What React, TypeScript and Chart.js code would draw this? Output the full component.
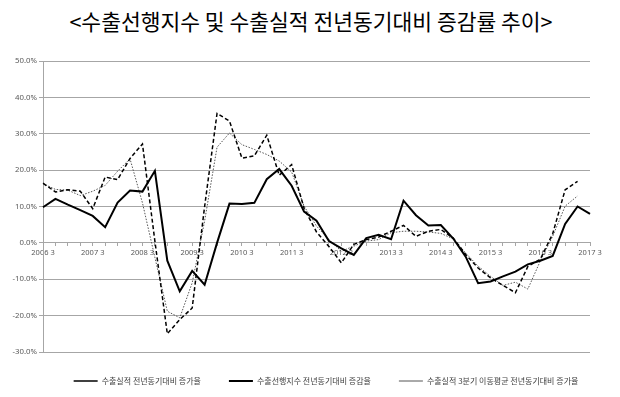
import React, { useEffect, useRef } from "react";
import { Chart, registerables } from "chart.js";

Chart.register(...registerables);

const titleText = "<수출선행지수 및 수출실적 전년동기대비 증감률 추이>";

const quarters = [
  "2006 3", "2006 4",
  "2007 1", "2007 2", "2007 3", "2007 4",
  "2008 1", "2008 2", "2008 3", "2008 4",
  "2009 1", "2009 2", "2009 3", "2009 4",
  "2010 1", "2010 2", "2010 3", "2010 4",
  "2011 1", "2011 2", "2011 3", "2011 4",
  "2012 1", "2012 2", "2012 3", "2012 4",
  "2013 1", "2013 2", "2013 3", "2013 4",
  "2014 1", "2014 2", "2014 3", "2014 4",
  "2015 1", "2015 2", "2015 3", "2015 4",
  "2016 1", "2016 2", "2016 3", "2016 4",
  "2017 1", "2017 2", "2017 3",
];

const seriesNames = [
  "수출실적 전년동기대비 증가율",
  "수출선행지수 전년동기대비 증감율",
  "수출실적 3분기 이동평균 전년동기대비 증가율",
];

const exportYoY = [
  16.4, 14.0, 14.6, 14.2, 9.4, 18.1, 17.4, 23.2, 27.2, 0.5,
  -25.0, -21.1, -17.9, 10.0, 35.6, 33.5, 23.3, 23.9, 29.6, 18.6,
  21.5, 9.5, 3.0, -1.0, -5.5, -0.4, 0.9, 1.6, 3.2, 4.8,
  1.8, 3.2, 3.7, 1.3, -3.2, -6.9, -9.6, -11.7, -13.7, -6.5,
  -4.5, 2.5, 14.6, 16.9, null,
];

const leadingIndexYoY = [
  9.8, 12.1, 10.5, 9.0, 7.4, 4.3, 11.1, 14.4, 14.1, 19.8,
  -4.9, -13.3, -7.7, -11.5, 0.0, 10.8, 10.7, 11.0, 17.5, 20.3,
  15.7, 8.6, 6.1, 0.5, -1.5, -3.3, 1.3, 2.2, 1.0, 11.6,
  7.6, 4.8, 4.9, 1.2, -3.8, -11.1, -10.6, -9.2, -7.9, -5.9,
  -4.9, -3.6, 5.2, 10.0, 8.0,
];

const exportMovingAvgYoY = [
  16.3, 14.7, 14.5, 13.0, 14.2, 15.8, 19.7, 23.1, 11.0, -4.0,
  -18.8, -20.6, -11.0, 6.0, 26.3, 30.2, 27.0, 25.7, 24.3, 22.5,
  19.5, 10.1, 4.6, 0.9, -2.3, -0.9, 0.5, 0.9, 2.8, 3.2,
  3.2, 3.0, 2.6, 1.1, -2.8, -6.4, -9.2, -11.7, -10.8, -12.7,
  -5.0, 1.8, 10.1, 12.9, null,
];

const yMin = -30;
const yMax = 50;
const yStep = 10;

const legendShift = {
  id: "legendShift",
  afterLayout(chart: any) {
    const lg = chart.legend;
    if (lg) {
      lg.left += 14;
      lg.right += 14;
      lg.top -= 3;
      lg.bottom -= 3;
    }
  },
};

export default function App() {
  const canvasRef = useRef<HTMLCanvasElement | null>(null);

  useEffect(() => {
    if (!canvasRef.current) return;
    const gray = "#a6a6a6";
    const labelColor = "#595959";
    const chart = new Chart(canvasRef.current, {
      type: "line",
      data: {
        labels: quarters,
        datasets: [
          {
            label: seriesNames[0],
            data: exportYoY,
            borderColor: "#000000",
            backgroundColor: "#000000",
            borderWidth: 1.5,
            borderDash: [4, 2.5],
            pointRadius: 0,
            pointStyle: "line",
            tension: 0,
          },
          {
            label: seriesNames[1],
            data: leadingIndexYoY,
            borderColor: "#000000",
            backgroundColor: "#000000",
            borderWidth: 2,
            pointRadius: 0,
            pointStyle: "line",
            tension: 0,
          },
          {
            label: seriesNames[2],
            data: exportMovingAvgYoY,
            borderColor: "#555555",
            backgroundColor: "#555555",
            borderWidth: 1,
            borderDash: [1.5, 1.5],
            pointRadius: 0,
            pointStyle: "line",
            tension: 0,
          },
        ],
      },
      options: {
        animation: false,
        responsive: true,
        maintainAspectRatio: false,
        layout: { padding: { left: 4, right: 0, top: 61, bottom: -1 } },
        plugins: {
          title: { display: false },
          tooltip: { enabled: false },
          legend: {
            display: true,
            position: "bottom",
            labels: {
              usePointStyle: true,
              pointStyleWidth: 24,
              padding: 28,
              color: "#404040",
              font: { family: "'Noto Sans CJK KR'", size: 8 },
            },
          },
        },
        scales: {
          x: {
            type: "category",
            position: { y: 0 },
            offset: false,
            grid: {
              display: true,
              drawOnChartArea: false,
              drawTicks: true,
              tickLength: 3,
              color: gray,
            },
            border: { display: true, color: gray, width: 1 },
            ticks: {
              autoSkip: false,
              maxRotation: 0,
              minRotation: 0,
              padding: 2,
              color: labelColor,
              font: { family: "'Noto Sans'", size: 7.5 },
              callback: (_v: any, i: number) =>
                quarters[i].endsWith(" 3") ? quarters[i] : "",
            },
          },
          y: {
            min: yMin,
            max: yMax,
            afterFit: (scale: any) => {
              scale.width = 39;
            },
            grid: { color: gray, tickLength: 4, lineWidth: 1 },
            border: { display: true, color: gray, width: 1 },
            ticks: {
              stepSize: yStep,
              padding: 2,
              color: labelColor,
              font: { family: "'Noto Sans'", size: 7.8 },
              callback: (v: any) => Number(v).toFixed(1) + "%",
            },
          },
          y2: {
            type: "linear",
            position: "right",
            min: yMin,
            max: yMax,
            afterFit: (scale: any) => {
              scale.width = 30;
            },
            grid: { display: false, drawTicks: false },
            border: { display: false },
            ticks: { display: false },
          },
        },
      },
      plugins: [legendShift],
    });
    return () => chart.destroy();
  }, []);

  return (
    <div
      style={{
        position: "fixed",
        left: 0,
        top: 0,
        width: 620,
        height: 397,
        background: "#ffffff",
      }}
    >
      <div
        style={{
          position: "absolute",
          left: 0,
          top: 8,
          width: 622,
          textAlign: "center",
          fontFamily: "'Noto Sans CJK KR'",
          fontSize: 21.5,
          lineHeight: "26px",
          color: "#000000",
          whiteSpace: "nowrap",
        }}
      >
        {titleText}
      </div>
      <div style={{ position: "absolute", left: 0, top: 0, width: 620, height: 397 }}>
        <canvas ref={canvasRef} />
      </div>
    </div>
  );
}
